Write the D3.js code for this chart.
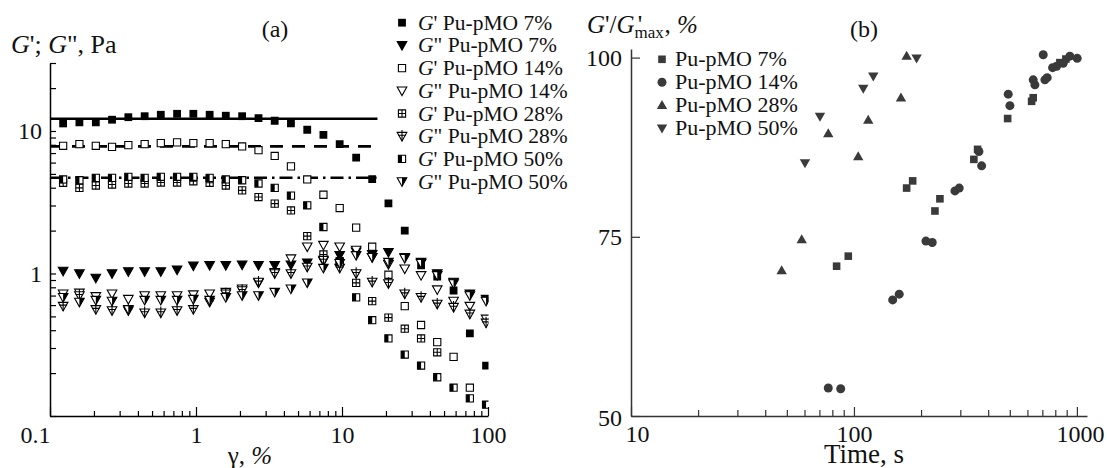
<!DOCTYPE html>
<html>
<head>
<meta charset="utf-8">
<script src="https://cdn.jsdelivr.net/npm/d3@7"></script>
<style>
  body { margin: 0; background: #fff; }
  svg { display: block; }
  text { font-family: "Liberation Serif", "Times New Roman", "DejaVu Serif", serif; fill: #111; }
</style>
</head>
<body>
<svg id="chart" width="1107" height="468"></svg>
<script>
// ---- panel (a): strain sweep, G' and G'' (Pa) ----
const strain = [0.123, 0.159, 0.206, 0.266, 0.344, 0.445, 0.574, 0.742, 0.959, 1.24, 1.60, 2.07, 2.68,
  3.46, 4.47, 5.78, 7.46, 9.64, 12.5, 16.1, 20.8, 26.9, 34.8, 44.9, 58.1, 75.1, 97.0];

const gp7 = [11.3, 11.5, 11.5, 12.0, 12.5, 12.7, 13.0, 13.2, 13.2, 13.0, 12.8, 12.7, 12.3, 11.8, 11.3,
  10.2, 9.4, 8.1, 6.5, 4.6, 3.1, 2.0, 1.14, 0.95, 0.76, 0.38, 0.226];
const gpp7 = [1.04, 1.00, 0.93, 1.00, 1.03, 1.03, 1.03, 1.06, 1.13, 1.14, 1.14, 1.15, 1.14, 1.14, 1.15,
  1.19, 1.22, 1.34, 1.42, 1.36, 1.41, 1.30, 1.20, 1.00, 0.87, 0.72, 0.66];
const gp14 = [7.87, 8.09, 7.87, 7.74, 7.96, 8.09, 8.22, 8.32, 8.22, 8.22, 8.09, 7.79, 7.33, 6.68, 5.65,
  4.57, 3.57, 2.88, 2.10, 1.54, 0.98, 0.59, 0.435, 0.33, 0.26, 0.158, null];
const gpp14 = [0.72, 0.73, 0.69, 0.72, 0.66, 0.70, 0.70, 0.70, 0.71, 0.72, 0.74, 0.78, 0.86, 1.02, 1.27,
  1.54, 1.58, 1.54, 1.46, 1.30, 1.16, 1.08, 0.97, 0.77, 0.64, 0.59, 0.48];
const gp28 = [4.33, 3.99, 4.14, 4.21, 4.28, 4.28, 4.35, 4.35, 4.44, 4.33, 4.14, 3.83, 3.44, 3.09, 2.77,
  1.83, 1.36, 1.22, 0.86, 0.64, 0.49, 0.41, 0.35, 0.28, null, null, null];
const gpp28 = [0.59, 0.70, 0.56, 0.55, 0.55, 0.53, 0.53, 0.55, 0.56, 0.63, 0.72, 0.76, 0.87, 1.00, 1.00,
  1.11, 1.24, 1.09, 1.00, 0.87, 0.85, 0.72, 0.68, 0.61, 0.58, 0.52, 0.45];
const gp50 = [4.57, 4.51, 4.69, 4.69, 4.77, 4.69, 4.77, 4.77, 4.77, 4.69, 4.57, 4.51, 4.28, 3.99, 3.52,
  3.01, 2.12, 1.20, 0.68, 0.47, 0.35, 0.27, 0.226, 0.187, 0.158, 0.133, 0.120];
const gpp50 = [0.68, 0.63, 0.65, 0.64, 0.56, 0.65, 0.65, 0.65, 0.66, 0.65, 0.68, 0.70, 0.70, 0.74, 0.78,
  0.86, 1.09, 1.18, 1.34, 1.30, 1.20, 1.28, 1.18, 0.97, 0.85, 0.70, 0.64];

// plateau levels drawn as horizontal lines (solid, dashed, dash-dot)
const plateauLevels = [12.2, 7.8, 4.7];
const plateauEnd = 17.5;

const legendA = ["G' Pu-pMO 7%", "G\" Pu-pMO 7%", "G' Pu-pMO 14%", "G\" Pu-pMO 14%",
  "G' Pu-pMO 28%", "G\" Pu-pMO 28%", "G' Pu-pMO 50%", "G\" Pu-pMO 50%"];

// ---- panel (b): G'/G'max (%) vs time (s) ----
const t7 = [83.6, 94.3, 172.3, 183.4, 230.8, 243, 345, 358.6, 489, 626.5, 636.8, 839, 892.5];
const v7 = [70.9, 72.3, 81.8, 82.8, 78.6, 80.3, 85.8, 87.2, 91.5, 93.9, 94.4, 99.3, 99.8];
const t14 = [76.7, 87.2, 149.2, 159.6, 210.3, 224.5, 283.8, 296.6, 363.5, 373.8, 492, 500.6, 636.8, 648.2,
  706.3, 718.7, 735.9, 778, 811, 868, 930, 1003];
const v14 = [53.9, 53.8, 66.2, 67.0, 74.4, 74.2, 81.4, 81.8, 86.9, 84.9, 94.9, 93.3, 96.9, 96.2,
  100.4, 96.9, 97.2, 98.6, 98.8, 99.2, 100.2, 99.9];
const t28 = [47.4, 58.3, 76.7, 104.5, 115.9, 162.5, 172.3];
const v28 = [70.3, 74.6, 89.4, 86.2, 91.3, 94.4, 100.2];
const t50 = [60.3, 70.4, 110.1, 122.1, 191];
const v50 = [85.3, 91.8, 95.7, 97.4, 99.9];
const legendB = ["Pu-pMO 7%", "Pu-pMO 14%", "Pu-pMO 28%", "Pu-pMO 50%"];

const svg = d3.select('#chart');
const FONT = '"Liberation Serif", "Times New Roman", serif';

// marker shapes: list of [path, fill, stroke]
const sq = h => `M${-h},${-h}H${h}V${h}H${-h}Z`;
const sqLeft = h => `M${-h},${-h}H0V${h}H${-h}Z`;
const triDown = `M-4.8,-3.8L4.8,-3.8L0,4.8Z`;
const triDownRight = `M0,-3.8L4.8,-3.8L0,4.8Z`;
const shapesA = [
  [[sq(3.9), '#000', 'none']],
  [[triDown, '#000', '#000']],
  [[sq(3.6), '#fff', '#000']],
  [[triDown, '#fff', '#000']],
  [[sq(3.6), '#fff', '#000'], ['M0,-3.6V3.6M-3.6,0H3.6', 'none', '#000']],
  [[triDown, '#fff', '#000'], ['M0,-6.2V4.8M-3.8,-1H3.8', 'none', '#000']],
  [[sq(3.6), '#fff', '#000'], [sqLeft(3.6), '#000', 'none']],
  [[triDown, '#fff', '#000'], [triDownRight, '#000', 'none']]
];

function drawMarker(g, parts) {
  parts.forEach(p => g.append('path').attr('d', p[0]).attr('fill', p[1])
    .attr('stroke', p[2]).attr('stroke-width', 1.1));
}

// ===================== panel (a) =====================
const xa = d3.scaleLog().domain([0.1, 100]).range([50, 488]);
const ya = d3.scaleLog().domain([0.1, 30]).range([416, 63]);

const pa = svg.append('g');
pa.append('clipPath').attr('id', 'clipA').append('rect')
  .attr('x', 0).attr('y', 0).attr('width', 488.5).attr('height', 418);

// horizontal plateau lines
const dashes = [null, '13,9', '13,5,2.5,5'];
plateauLevels.forEach((lv, i) => {
  pa.append('line')
    .attr('x1', xa(0.1)).attr('x2', xa(plateauEnd))
    .attr('y1', ya(lv)).attr('y2', ya(lv))
    .attr('stroke', '#000').attr('stroke-width', 2.6)
    .attr('stroke-dasharray', dashes[i]);
});

const seriesA = [gp7, gpp7, gp14, gpp14, gp28, gpp28, gp50, gpp50];
const marksA = pa.append('g').attr('clip-path', 'url(#clipA)');
seriesA.forEach((vals, si) => {
  const pts = strain.map((s, i) => [s, vals[i]]).filter(d => d[1] != null);
  marksA.append('g').selectAll('g').data(pts).join('g')
    .attr('transform', d => `translate(${xa(d[0])},${ya(d[1])})`)
    .each(function () { drawMarker(d3.select(this), shapesA[si]); });
});

// axes (a)
const minorLog = (lo, hi) => {
  const out = [];
  for (let d = lo; d < hi; d *= 10) for (let k = 2; k <= 9; k++) if (d * k <= hi) out.push(d * k);
  return out;
};
function styleAxis(g, color, size) {
  g.attr('font-family', FONT).attr('font-size', size);
  g.selectAll('path.domain').attr('stroke', color).attr('stroke-width', 1.5);
  g.selectAll('.tick line').attr('stroke', color).attr('stroke-width', 1.2);
  g.selectAll('.tick text').attr('fill', '#111');
}

const axXa = pa.append('g').attr('transform', 'translate(0,416)')
  .call(d3.axisBottom(xa).tickValues([0.1, 1, 10, 100]).tickSize(-9).tickSizeOuter(0)
    .tickPadding(10).tickFormat(d => d3.format('~g')(d)));
styleAxis(axXa, '#000', 24);
axXa.selectAll('.tick text').filter(d => d === 0.1).attr('x', -15);
const axXaMin = pa.append('g').attr('transform', 'translate(0,416)')
  .call(d3.axisBottom(xa).tickValues(minorLog(0.1, 100)).tickSize(-5).tickFormat(''));
axXaMin.select('.domain').remove();
styleAxis(axXaMin, '#000', 24);

const axYa = pa.append('g').attr('transform', 'translate(50,0)')
  .call(d3.axisLeft(ya).tickValues([1, 10]).tickSize(-6).tickSizeOuter(0).tickPadding(8)
    .tickFormat(d => d3.format('~g')(d)));
styleAxis(axYa, '#000', 24);
const axYaMin = pa.append('g').attr('transform', 'translate(50,0)')
  .call(d3.axisLeft(ya).tickValues(minorLog(0.1, 30).concat([0.1])).tickSize(-6).tickFormat(''));
axYaMin.select('.domain').remove();
styleAxis(axYaMin, '#000', 24);

// titles (a)
const tA = pa.append('text').attr('x', 11).attr('y', 53).attr('font-size', 26);
tA.append('tspan').attr('font-style', 'italic').text('G');
tA.append('tspan').text("'; ");
tA.append('tspan').attr('font-style', 'italic').text('G');
tA.append('tspan').text('", Pa');
pa.append('text').attr('x', 275).attr('y', 37).attr('font-size', 24)
  .attr('text-anchor', 'middle').text('(a)');
const gx = pa.append('text').attr('x', 250).attr('y', 464).attr('font-size', 25)
  .attr('text-anchor', 'middle');
gx.append('tspan').text('γ, ');
gx.append('tspan').attr('font-style', 'italic').text('%');

// legend (a)
const legA = pa.append('g');
legendA.forEach((lab, i) => {
  const cy = 22.7 + 22.7 * i;
  drawMarker(legA.append('g').attr('transform', `translate(402,${cy})`), shapesA[i]);
  const t = legA.append('text').attr('x', 418).attr('y', cy + 7).attr('font-size', 21.5);
  t.append('tspan').attr('font-style', 'italic').text('G');
  t.append('tspan').text(lab.slice(1));
});

// ===================== panel (b) =====================
const xb = d3.scaleLog().domain([10, 1110]).range([631, 1087]);
const yb = d3.scaleLinear().domain([50, 101.2]).range([416, 49]);
const pb = svg.append('g');
const GREY = '#3a3a3a';

const shapesB = [
  g => g.append('path').attr('d', sq(3.8)),
  g => g.append('circle').attr('r', 4.5),
  g => g.append('path').attr('d', 'M-5.2,3.7L5.2,3.7L0,-5.3Z'),
  g => g.append('path').attr('d', 'M-5.2,-3.7L5.2,-3.7L0,5.3Z')
];
const seriesB = [[t7, v7], [t14, v14], [t28, v28], [t50, v50]];
seriesB.forEach(([ts, vs], si) => {
  const pts = ts.map((t, i) => [t, vs[i]]);
  pb.append('g').attr('fill', GREY).selectAll('g').data(pts).join('g')
    .attr('transform', d => `translate(${xb(d[0])},${yb(d[1])})`)
    .each(function () { shapesB[si](d3.select(this)); });
});

const axXb = pb.append('g').attr('transform', 'translate(0,416)')
  .call(d3.axisBottom(xb).tickValues([10, 100, 1000]).tickSize(-9).tickSizeOuter(0)
    .tickPadding(9).tickFormat(d3.format('d')));
styleAxis(axXb, '#333', 24);
axXb.selectAll('.tick text').filter(d => d === 10).attr('x', 6);
axXb.selectAll('.tick text').filter(d => d === 1000).attr('x', 3);
const axXbMin = pb.append('g').attr('transform', 'translate(0,416)')
  .call(d3.axisBottom(xb).tickValues(minorLog(10, 1000)).tickSize(-6).tickFormat(''));
axXbMin.select('.domain').remove();
styleAxis(axXbMin, '#333', 24);

const axYb = pb.append('g').attr('transform', 'translate(631,0)')
  .call(d3.axisLeft(yb).tickValues([50, 75, 100]).tickSize(-9).tickSizeOuter(0).tickPadding(9)
    .tickFormat(d3.format('d')));
styleAxis(axYb, '#333', 24);
axYb.selectAll('.tick text').filter(d => d === 50).attr('y', 2);

// titles (b)
const tB = pb.append('text').attr('x', 587).attr('y', 33).attr('font-size', 25);
tB.append('tspan').attr('font-style', 'italic').text('G');
tB.append('tspan').text("'/");
tB.append('tspan').attr('font-style', 'italic').text('G');
tB.append('tspan').attr('font-size', 17).attr('dy', 5).text('max');
tB.append('tspan').attr('dx', -26).attr('dy', -5).text("'");
tB.append('tspan').attr('dx', 22).text(', ');
tB.append('tspan').attr('font-style', 'italic').text('%');
pb.append('text').attr('x', 864).attr('y', 37).attr('font-size', 24)
  .attr('text-anchor', 'middle').text('(b)');
pb.append('text').attr('x', 864).attr('y', 463).attr('font-size', 27)
  .attr('text-anchor', 'middle').text('Time, s');

// legend (b)
legendB.forEach((lab, i) => {
  const cy = 59.3 + 23 * i;
  const g = pb.append('g').attr('fill', GREY).attr('transform', `translate(662,${cy})`);
  shapesB[i](g);
  pb.append('text').attr('x', 675).attr('y', cy + 7).attr('font-size', 22).text(lab);
});
</script>
</body>
</html>
